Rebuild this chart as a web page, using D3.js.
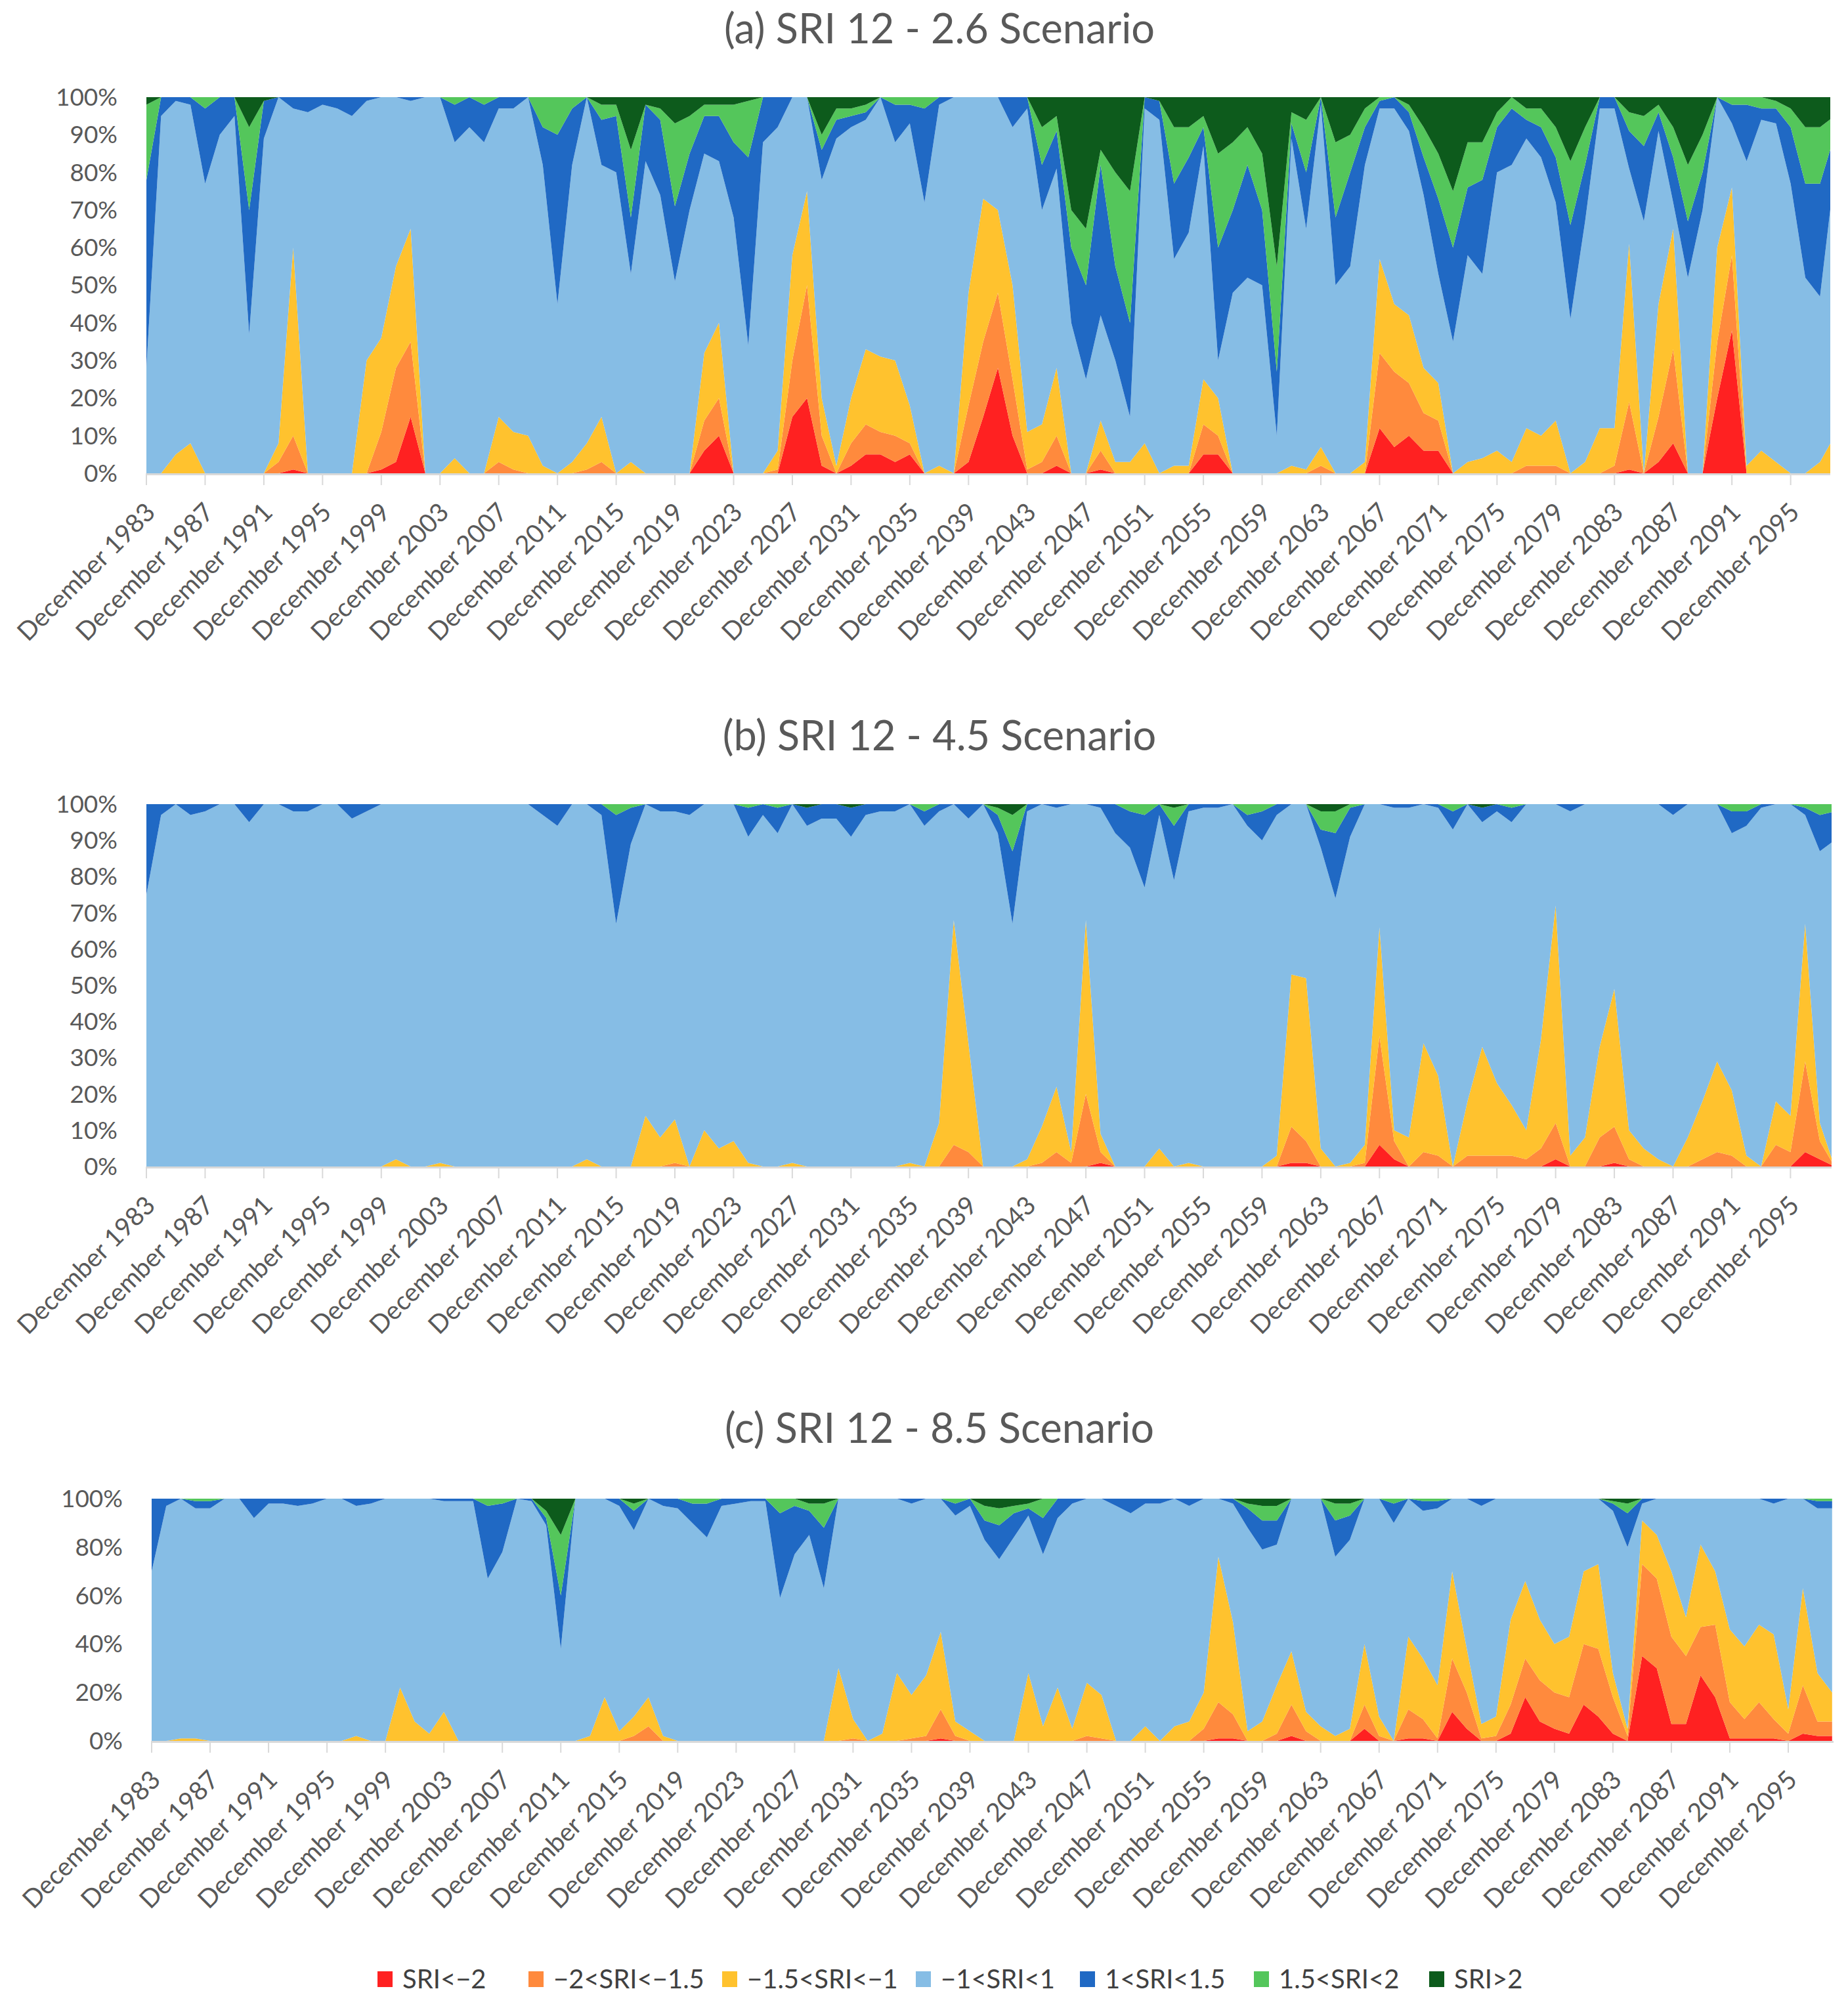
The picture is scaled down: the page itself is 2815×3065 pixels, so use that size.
<!DOCTYPE html>
<html>
<head>
<meta charset="utf-8">
<script src="https://cdn.jsdelivr.net/npm/d3@7"></script>
<style>
  body { margin: 0; background: #fff; }
  text { font-family: Lato, "Open Sans", sans-serif; fill: #595959; }
</style>
</head>
<body>
<svg id="chart" width="2815" height="3065"></svg>
<script>
// SRI 12 class shares (% of area) for December of each year.
// Each list holds [year, percent]; years not listed show none of that class.
const classes = ["SRI<\u22122", "\u22122<SRI<\u22121.5", "\u22121.5<SRI<\u22121", "\u22121<SRI<1", "1<SRI<1.5", "1.5<SRI<2", "SRI>2"];
const colors = ["#ff2121", "#ff8a3d", "#ffc22e", "#86bde5", "#2069c4", "#54c65b", "#0d5b1c"];
const years = d3.range(1983, 2099);
const tickYears = [1983, 1987, 1991, 1995, 1999, 2003, 2007, 2011, 2015, 2019, 2023, 2027, 2031, 2035, 2039,
                   2043, 2047, 2051, 2055, 2059, 2063, 2067, 2071, 2075, 2079, 2083, 2087, 2091, 2095];

// (a) 2.6 scenario
const a_red = [[1993,1],[1999,1],[2000,3],[2001,15],[2021,6],[2022,10],[2027,15],[2028,20],[2029,2],[2031,2],[2032,5],
  [2033,5],[2034,3],[2035,5],[2039,3],[2040,15],[2041,28],[2042,10],[2045,2],[2048,1],[2055,5],[2056,5],[2067,12],
  [2068,7],[2069,10],[2070,6],[2071,6],[2084,1],[2086,3],[2087,8],[2090,20],[2091,38]];
const a_orange = [[1992,3],[1993,9],[1999,10],[2000,25],[2001,20],[2007,3],[2008,1],[2013,1],[2014,3],[2021,8],[2022,10],
  [2026,1],[2027,15],[2028,30],[2029,8],[2031,6],[2032,8],[2033,6],[2034,7],[2035,3],[2039,15],[2040,20],[2041,20],
  [2042,15],[2043,1],[2044,3],[2045,8],[2048,5],[2055,8],[2056,5],[2063,2],[2067,20],[2068,20],[2069,14],[2070,10],
  [2071,8],[2077,2],[2078,2],[2079,2],[2083,2],[2084,18],[2086,12],[2087,25],[2090,15],[2091,20]];
const a_yellow = [[1985,5],[1986,8],[1992,5],[1993,50],[1998,30],[1999,25],[2000,27],[2001,30],[2004,4],[2007,12],
  [2008,10],[2009,10],[2010,2],[2012,3],[2013,7],[2014,12],[2016,3],[2021,18],[2022,20],[2026,5],[2027,28],[2028,25],
  [2029,10],[2030,2],[2031,12],[2032,20],[2033,20],[2034,20],[2035,10],[2037,2],[2039,30],[2040,38],[2041,22],
  [2042,25],[2043,10],[2044,10],[2045,18],[2048,8],[2049,3],[2050,3],[2051,8],[2053,2],[2054,2],[2055,12],[2056,10],
  [2061,2],[2062,1],[2063,5],[2066,3],[2067,25],[2068,18],[2069,18],[2070,12],[2071,10],[2073,3],[2074,4],[2075,6],
  [2076,3],[2077,10],[2078,8],[2079,12],[2081,3],[2082,12],[2083,10],[2084,42],[2086,30],[2087,32],[2090,25],
  [2091,18],[2092,2],[2093,6],[2094,3],[2097,3],[2098,10]];
const a_blue = [[1983,50],[1984,5],[1985,1],[1986,2],[1987,20],[1988,10],[1989,5],[1990,33],[1991,10],[1993,3],[1994,4],
  [1995,2],[1996,3],[1997,5],[1998,1],[2001,1],[2004,10],[2005,8],[2006,10],[2007,3],[2008,3],[2010,10],[2011,45],
  [2012,15],[2014,12],[2015,15],[2016,15],[2017,15],[2018,20],[2019,20],[2020,15],[2021,10],[2022,12],[2023,20],
  [2024,50],[2025,12],[2026,8],[2029,8],[2030,5],[2031,3],[2032,2],[2034,10],[2035,5],[2036,25],[2037,2],[2042,8],
  [2043,3],[2044,12],[2045,10],[2046,20],[2047,25],[2048,40],[2049,25],[2050,25],[2051,3],[2052,5],[2053,20],
  [2054,20],[2055,5],[2056,30],[2057,22],[2058,30],[2059,20],[2060,17],[2061,4],[2062,15],[2063,2],[2064,18],
  [2065,25],[2066,10],[2067,2],[2068,3],[2069,5],[2070,10],[2071,20],[2072,25],[2073,18],[2074,25],[2075,12],
  [2076,15],[2077,5],[2078,8],[2079,12],[2080,25],[2081,15],[2082,3],[2083,3],[2084,10],[2085,20],[2086,5],[2087,12],
  [2088,15],[2089,10],[2091,5],[2092,15],[2093,3],[2094,4],[2095,15],[2096,25],[2097,30],[2098,10]];
const a_green = [[1983,20],[1987,3],[1990,22],[2004,2],[2006,2],[2010,8],[2011,10],[2012,3],[2014,4],[2015,3],[2016,18],
  [2018,3],[2019,22],[2020,10],[2021,3],[2022,3],[2023,10],[2024,15],[2029,4],[2030,3],[2031,2],[2032,2],[2034,2],
  [2035,2],[2036,3],[2044,10],[2045,4],[2046,10],[2047,15],[2048,4],[2049,25],[2050,35],[2053,15],[2054,8],[2055,3],
  [2056,25],[2057,18],[2058,10],[2059,15],[2060,28],[2061,3],[2062,14],[2064,20],[2065,10],[2066,5],[2067,1],
  [2069,2],[2070,8],[2071,12],[2072,15],[2073,12],[2074,10],[2075,4],[2076,3],[2077,3],[2078,5],[2079,8],[2080,17],
  [2081,10],[2084,5],[2085,8],[2086,2],[2087,8],[2088,15],[2089,10],[2091,2],[2092,2],[2093,3],[2094,2],[2095,5],
  [2096,15],[2097,15],[2098,5]];
const a_dkgreen = [[1983,2],[1990,8],[1991,1],[2014,2],[2015,2],[2016,14],[2017,2],[2018,3],[2019,7],[2020,5],[2021,2],
  [2022,2],[2023,2],[2024,1],[2029,10],[2030,3],[2031,3],[2032,2],[2044,8],[2045,5],[2046,30],[2047,35],[2048,14],
  [2049,20],[2050,25],[2052,1],[2053,8],[2054,8],[2055,5],[2056,15],[2057,12],[2058,8],[2059,15],[2060,45],[2061,4],
  [2062,6],[2064,12],[2065,10],[2066,3],[2069,2],[2070,8],[2071,15],[2072,25],[2073,12],[2074,12],[2075,4],[2077,3],
  [2078,3],[2079,8],[2080,17],[2081,8],[2084,4],[2085,5],[2086,2],[2087,8],[2088,18],[2089,10],[2094,1],[2095,3],
  [2096,8],[2097,8],[2098,5]];

// (b) 4.5 scenario
const b_red = [[2048,1],[2061,1],[2062,1],[2067,6],[2068,2],[2079,2],[2083,1],[2096,4],[2097,2]];
const b_orange = [[2019,1],[2038,6],[2039,4],[2044,1],[2045,4],[2046,1],[2047,20],[2048,3],[2061,10],[2062,6],[2066,1],
  [2067,30],[2068,5],[2070,4],[2071,3],[2073,3],[2074,3],[2075,3],[2076,3],[2077,2],[2078,5],[2079,10],[2082,8],
  [2083,10],[2084,2],[2089,2],[2090,4],[2091,3],[2094,6],[2095,4],[2096,25],[2097,5]];
const b_yellow = [[2000,2],[2003,1],[2013,2],[2017,14],[2018,8],[2019,12],[2021,10],[2022,5],[2023,7],[2024,1],[2027,1],
  [2035,1],[2037,12],[2038,62],[2039,30],[2043,2],[2044,10],[2045,18],[2046,3],[2047,48],[2048,5],[2052,5],[2054,1],
  [2060,3],[2061,42],[2062,45],[2063,5],[2065,1],[2066,5],[2067,30],[2068,3],[2069,8],[2070,30],[2071,22],[2073,15],
  [2074,30],[2075,20],[2076,14],[2077,8],[2078,30],[2079,60],[2080,3],[2081,8],[2082,25],[2083,38],[2084,8],
  [2085,5],[2086,2],[2088,8],[2089,16],[2090,25],[2091,18],[2092,3],[2094,12],[2095,10],[2096,38],[2097,5]];
const b_blue = [[1983,25],[1984,3],[1986,3],[1987,2],[1990,5],[1993,2],[1994,2],[1997,4],[1998,2],[2010,3],[2011,6],
  [2014,3],[2015,30],[2016,10],[2018,2],[2019,2],[2020,3],[2024,8],[2025,3],[2026,7],[2028,5],[2029,4],[2030,4],
  [2031,8],[2032,3],[2033,2],[2034,2],[2036,4],[2037,2],[2039,4],[2041,5],[2042,20],[2043,2],[2045,1],[2048,1],
  [2049,8],[2050,10],[2051,20],[2052,3],[2053,15],[2054,2],[2055,1],[2056,1],[2058,3],[2059,8],[2060,3],[2063,5],
  [2064,18],[2065,8],[2068,1],[2069,1],[2071,1],[2072,5],[2074,4],[2075,2],[2076,4],[2080,2],[2087,3],[2091,6],
  [2092,4],[2093,1],[2096,2],[2097,10],[2098,8]];
const b_green = [[2015,3],[2016,1],[2024,1],[2026,1],[2036,2],[2041,2],[2042,10],[2050,2],[2051,3],[2053,5],[2058,3],
  [2059,2],[2063,5],[2064,6],[2065,1],[2072,2],[2076,1],[2091,2],[2092,2],[2096,1],[2097,3],[2098,2]];
const b_dkgreen = [[2028,1],[2031,1],[2041,1],[2042,3],[2053,1],[2063,2],[2064,2],[2074,1]];

// (c) 8.5 scenario
const c_red = [[2037,1],[2056,1],[2057,1],[2061,2],[2066,5],[2069,1],[2070,1],[2072,12],[2073,5],[2076,3],[2077,18],
  [2078,8],[2079,5],[2080,3],[2081,15],[2082,10],[2083,3],[2085,35],[2086,30],[2087,7],[2088,7],[2089,27],[2090,18],
  [2091,1],[2092,1],[2093,1],[2094,1],[2096,3],[2097,2],[2098,2]];
const c_orange = [[2016,2],[2017,6],[2031,1],[2035,1],[2036,2],[2037,12],[2038,2],[2047,2],[2048,1],[2055,5],[2056,15],
  [2057,10],[2060,3],[2061,13],[2062,4],[2066,10],[2067,2],[2069,12],[2070,8],[2071,1],[2072,22],[2073,15],[2074,1],
  [2075,2],[2076,12],[2077,16],[2078,17],[2079,15],[2080,15],[2081,25],[2082,28],[2083,15],[2084,2],[2085,38],
  [2086,37],[2087,36],[2088,28],[2089,20],[2090,30],[2091,15],[2092,8],[2093,15],[2094,8],[2095,3],[2096,20],
  [2097,6],[2098,6]];
const c_yellow = [[1985,1],[1986,1],[1997,2],[2000,22],[2001,8],[2002,3],[2003,12],[2013,2],[2014,18],[2015,4],[2016,8],
  [2017,12],[2018,2],[2030,30],[2031,8],[2033,3],[2034,28],[2035,18],[2036,25],[2037,32],[2038,6],[2039,4],[2043,28],
  [2044,6],[2045,22],[2046,5],[2047,22],[2048,18],[2051,6],[2053,6],[2054,8],[2055,15],[2056,60],[2057,38],[2058,4],
  [2059,8],[2060,20],[2061,22],[2062,8],[2063,6],[2064,2],[2065,5],[2066,25],[2067,8],[2069,30],[2070,25],[2071,22],
  [2072,36],[2073,18],[2074,6],[2075,8],[2076,35],[2077,32],[2078,25],[2079,20],[2080,25],[2081,30],[2082,35],
  [2083,10],[2084,3],[2085,18],[2086,18],[2087,27],[2088,16],[2089,34],[2090,22],[2091,30],[2092,30],[2093,32],
  [2094,35],[2095,10],[2096,40],[2097,20],[2098,12]];
const c_blue = [[1983,30],[1984,3],[1986,3],[1987,3],[1990,8],[1991,2],[1992,2],[1993,3],[1994,2],[1997,3],[1998,2],
  [2003,1],[2004,1],[2005,1],[2006,30],[2007,20],[2009,1],[2010,3],[2011,22],[2015,3],[2016,8],[2018,3],[2019,4],
  [2020,8],[2021,14],[2022,3],[2023,2],[2024,1],[2025,1],[2026,35],[2027,20],[2028,10],[2029,25],[2035,2],[2038,5],
  [2039,3],[2040,8],[2041,14],[2042,10],[2043,3],[2044,15],[2045,8],[2046,2],[2049,3],[2050,6],[2051,2],[2052,2],
  [2054,3],[2057,2],[2058,8],[2059,12],[2060,10],[2064,15],[2065,10],[2068,8],[2070,4],[2071,3],[2074,3],[2083,3],
  [2084,14],[2085,2],[2094,2],[2097,3],[2098,3]];
const c_green = [[1986,1],[1987,1],[2006,3],[2007,2],[2010,3],[2011,25],[2016,3],[2020,2],[2021,2],[2026,6],[2027,3],
  [2028,3],[2029,10],[2038,2],[2040,6],[2041,7],[2042,3],[2043,2],[2044,8],[2058,2],[2059,6],[2060,6],[2064,7],
  [2065,5],[2068,2],[2070,1],[2071,1],[2083,1],[2084,4],[2097,1],[2098,1]];
const c_dkgreen = [[2010,5],[2011,15],[2016,2],[2028,2],[2029,2],[2040,3],[2041,4],[2042,3],[2043,2],[2058,2],[2059,3],
  [2060,3],[2064,2],[2065,2],[2083,1],[2084,2]];

const panels = [
  { title: "(a) SRI 12 - 2.6 Scenario", series: [a_red, a_orange, a_yellow, a_blue, a_green, a_dkgreen],
    titleY: 66, top: 148, bottom: 721, left: 223, right: 2788, end: 2097.7, step: 10 },
  { title: "(b) SRI 12 - 4.5 Scenario", series: [b_red, b_orange, b_yellow, b_blue, b_green, b_dkgreen],
    titleY: 1143, top: 1225, bottom: 1777, left: 223, right: 2790, end: 2097.8, step: 10 },
  { title: "(c) SRI 12 - 8.5 Scenario", series: [c_red, c_orange, c_yellow, c_blue, c_green, c_dkgreen],
    titleY: 2198, top: 2283, bottom: 2652, left: 231, right: 2793, end: 2098.1, step: 20 }
];

const svg = d3.select("#chart");
const keys = d3.range(classes.length);

function byYear(pairs) {
  const m = new Map(pairs);
  return years.map(y => m.get(y) || 0);
}

panels.forEach((p, pi) => {
  const cols = p.series.map(byYear);
  // order bottom to top: red, orange, yellow, light blue (remaining share), blue, green, dark green
  const rows = years.map((yr, i) => {
    const low = [cols[0][i], cols[1][i], cols[2][i]];
    const high = [cols[3][i], cols[4][i], cols[5][i]];
    const rest = Math.max(0, 100 - d3.sum(low) - d3.sum(high));
    const r = { year: yr };
    [...low, rest, ...high].forEach((v, k) => r[k] = v);
    return r;
  });

  const x = d3.scaleLinear().domain([1983, p.end]).range([p.left, p.right]);
  const y = d3.scaleLinear().domain([0, 100]).range([p.bottom, p.top]);
  const stacked = d3.stack().keys(keys)(rows);

  const g = svg.append("g");

  g.append("text")
    .attr("x", 1431).attr("y", p.titleY)
    .attr("text-anchor", "middle")
    .style("font-size", "63px")
    .text(p.title);

  svg.append("clipPath").attr("id", "clip" + pi)
    .append("rect")
    .attr("x", p.left).attr("y", p.top)
    .attr("width", p.right - p.left).attr("height", p.bottom - p.top);

  const area = d3.area()
    .x(d => x(d.data.year))
    .y0(d => y(d[0]))
    .y1(d => y(d[1]));

  g.append("g").attr("clip-path", `url(#clip${pi})`)
    .selectAll("path")
    .data(stacked)
    .join("path")
    .attr("fill", d => colors[d.key])
    .attr("d", area);

  // y axis labels
  g.append("g").selectAll("text")
    .data(d3.range(0, 101, p.step))
    .join("text")
    .attr("x", p.left - 44)
    .attr("y", d => y(d))
    .attr("dy", "0.35em")
    .attr("text-anchor", "end")
    .style("font-size", "37px")
    .text(d => d + "%");

  // x axis line, ticks and rotated labels
  g.append("line")
    .attr("x1", p.left).attr("x2", p.right)
    .attr("y1", p.bottom + 1.5).attr("y2", p.bottom + 1.5)
    .attr("stroke", "#d9d9d9").attr("stroke-width", 3);

  g.append("g").selectAll("line")
    .data(tickYears)
    .join("line")
    .attr("x1", d => x(d)).attr("x2", d => x(d))
    .attr("y1", p.bottom).attr("y2", p.bottom + 18)
    .attr("stroke", "#d9d9d9").attr("stroke-width", 2);

  g.append("g").selectAll("text")
    .data(tickYears)
    .join("text")
    .attr("transform", d => `translate(${x(d) + 6},${p.bottom + 52}) rotate(-45)`)
    .attr("dy", "0.35em")
    .attr("text-anchor", "end")
    .style("font-size", "39px")
    .text(d => "December " + d);
});

// legend
const legendX = [575, 805, 1100, 1395, 1645, 1910, 2177];
const legend = svg.append("g").selectAll("g")
  .data(classes)
  .join("g")
  .attr("transform", (d, i) => `translate(${legendX[i]},3015)`);

legend.append("rect")
  .attr("x", 0).attr("y", -12)
  .attr("width", 23).attr("height", 24)
  .attr("fill", (d, i) => colors[i]);

legend.append("text")
  .attr("x", 38).attr("dy", "0.35em")
  .style("font-size", "40px")
  .style("fill", "#404040")
  .text(d => d);
</script>
</body>
</html>
